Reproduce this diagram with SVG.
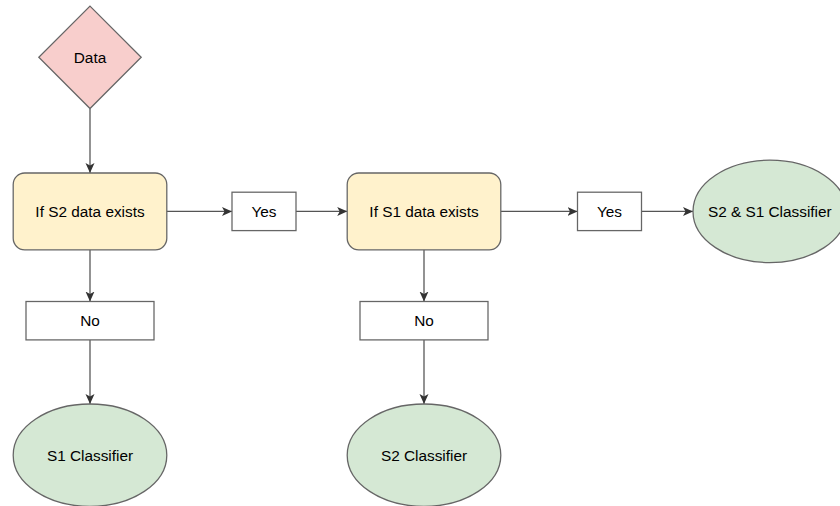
<svg xmlns="http://www.w3.org/2000/svg" width="840" height="506" viewBox="0 0 840 506">
<style>
  text { font-family: "Liberation Sans", Arial, Helvetica, sans-serif; font-size: 15.36px; fill: #000; text-anchor: middle; dominant-baseline: central; }
  .shape { stroke: #666666; stroke-width: 1.28; }
  .diamond { fill: #f8cecc; }
  .decision { fill: #fff2cc; }
  .label { fill: #ffffff; }
  .classifier { fill: #d5e8d4; }
  .edge { fill: none; stroke: #555555; stroke-width: 1.28; marker-end: url(#arrow); }
</style>
<defs>
  <marker id="arrow" markerUnits="userSpaceOnUse" markerWidth="10" markerHeight="10" viewBox="0 0 10 10" refX="10" refY="5" orient="auto">
    <path d="M0,0.5 L10,5 L0,9.5 L2.5,5 z" fill="#333333"/>
  </marker>
</defs>
<rect width="840" height="506" fill="#ffffff"/>
<g id="connectors">
  <line class="edge" x1="90" y1="108.5" x2="90" y2="173"/>
  <line class="edge" x1="90" y1="249.8" x2="90" y2="301.5"/>
  <line class="edge" x1="90" y1="340" x2="90" y2="404"/>
  <line class="edge" x1="166.6" y1="211.4" x2="232" y2="211.4"/>
  <line class="edge" x1="296" y1="211.4" x2="347.2" y2="211.4"/>
  <line class="edge" x1="500.8" y1="211.4" x2="577.5" y2="211.4"/>
  <line class="edge" x1="641.5" y1="211.4" x2="693" y2="211.4"/>
  <line class="edge" x1="424" y1="249.8" x2="424" y2="301.5"/>
  <line class="edge" x1="424" y1="340" x2="424" y2="404"/>
</g>
<g id="data">
  <polygon class="shape diamond" points="90,6.1 141.2,57.3 90,108.5 38.8,57.3"/>
  <text x="90" y="57.3">Data</text>
</g>
<g id="if-s2">
  <rect class="shape decision" x="13.2" y="173" width="153.6" height="76.8" rx="11.5" ry="11.5"/>
  <text x="90" y="211.4">If S2 data exists</text>
</g>
<g id="yes1">
  <rect class="shape label" x="232" y="192.2" width="64" height="38.4"/>
  <text x="264" y="211.4">Yes</text>
</g>
<g id="if-s1">
  <rect class="shape decision" x="347.2" y="173" width="153.6" height="76.8" rx="11.5" ry="11.5"/>
  <text x="424" y="211.4">If S1 data exists</text>
</g>
<g id="yes2">
  <rect class="shape label" x="577.5" y="192.2" width="64" height="38.4"/>
  <text x="609.5" y="211.4">Yes</text>
</g>
<g id="s2s1-classifier">
  <ellipse class="shape classifier" cx="769.8" cy="211.4" rx="76.8" ry="51.2"/>
  <text x="769.8" y="211.4">S2 &amp; S1 Classifier</text>
</g>
<g id="no1">
  <rect class="shape label" x="26" y="301.5" width="128" height="38.4"/>
  <text x="90" y="320.7">No</text>
</g>
<g id="s1-classifier">
  <ellipse class="shape classifier" cx="90" cy="455.2" rx="76.8" ry="51.2"/>
  <text x="90" y="455.2">S1 Classifier</text>
</g>
<g id="no2">
  <rect class="shape label" x="360" y="301.5" width="128" height="38.4"/>
  <text x="424" y="320.7">No</text>
</g>
<g id="s2-classifier">
  <ellipse class="shape classifier" cx="424" cy="455.2" rx="76.8" ry="51.2"/>
  <text x="424" y="455.2">S2 Classifier</text>
</g>
</svg>
